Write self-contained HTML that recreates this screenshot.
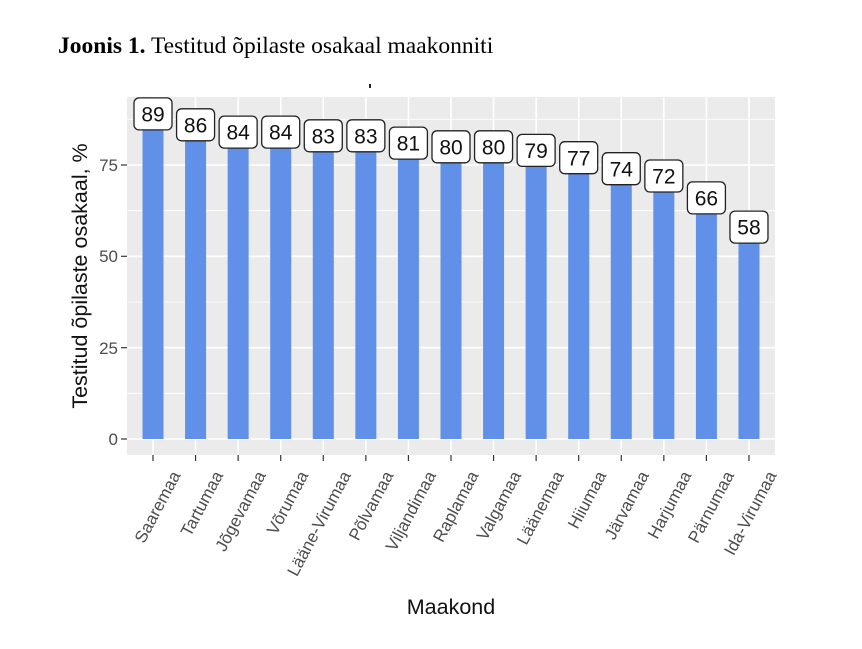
<!DOCTYPE html>
<html><head><meta charset="utf-8"><style>
body{margin:0;background:#fff;}
svg{display:block;}
.b{fill:#6090e8}
.l{fill:#fff;stroke:#222;stroke-width:1.3}
.v{font-size:21px;fill:#111;text-anchor:middle}
.x{font-size:17px;fill:#4d4d4d;text-anchor:end}
</style></head><body>
<svg width="862" height="649" xmlns="http://www.w3.org/2000/svg" font-family="Liberation Sans, Arial, sans-serif">
<rect width="862" height="649" fill="#fff"/>
<text x="58" y="53" font-family="Liberation Serif, serif" font-size="23.5" fill="#000"><tspan font-weight="bold">Joonis 1.</tspan> Testitud õpilaste osakaal maakonniti</text>
<rect x="369" y="84" width="2" height="4" fill="#222"/>
<rect x="127" y="97" width="648" height="358" fill="#ebebeb"/>
<g stroke="#fff" stroke-width="0.8">
<line x1="127" x2="775" y1="393.3" y2="393.3"/><line x1="127" x2="775" y1="302" y2="302"/><line x1="127" x2="775" y1="210.7" y2="210.7"/><line x1="127" x2="775" y1="119.3" y2="119.3"/>
</g>
<g stroke="#fff" stroke-width="1.6">
<line x1="127" x2="775" y1="439" y2="439"/><line x1="127" x2="775" y1="347.7" y2="347.7"/><line x1="127" x2="775" y1="256.3" y2="256.3"/><line x1="127" x2="775" y1="165" y2="165"/>
<line x1="153" x2="153" y1="97" y2="455"/><line x1="195.57" x2="195.57" y1="97" y2="455"/><line x1="238.14" x2="238.14" y1="97" y2="455"/><line x1="280.71" x2="280.71" y1="97" y2="455"/><line x1="323.28" x2="323.28" y1="97" y2="455"/><line x1="365.85" x2="365.85" y1="97" y2="455"/><line x1="408.42" x2="408.42" y1="97" y2="455"/><line x1="450.99" x2="450.99" y1="97" y2="455"/><line x1="493.56" x2="493.56" y1="97" y2="455"/><line x1="536.13" x2="536.13" y1="97" y2="455"/><line x1="578.7" x2="578.7" y1="97" y2="455"/><line x1="621.27" x2="621.27" y1="97" y2="455"/><line x1="663.84" x2="663.84" y1="97" y2="455"/><line x1="706.41" x2="706.41" y1="97" y2="455"/><line x1="748.98" x2="748.98" y1="97" y2="455"/>
</g>
<g fill="#4d4d4d" font-size="17" text-anchor="end">
<text x="118" y="445">0</text><text x="118" y="354">25</text><text x="118" y="262">50</text><text x="118" y="171">75</text>
</g>
<g stroke="#333" stroke-width="1.2">
<line x1="121" x2="127" y1="439" y2="439"/><line x1="121" x2="127" y1="347.7" y2="347.7"/><line x1="121" x2="127" y1="256.3" y2="256.3"/><line x1="121" x2="127" y1="165" y2="165"/>
</g>
<text transform="translate(87,276) rotate(-90)" text-anchor="middle" font-size="21.5" fill="#111">Testitud õpilaste osakaal, %</text>
<text x="451" y="614" text-anchor="middle" font-size="21.5" fill="#111">Maakond</text>

<defs>
<g id="tk"><line x1="0" x2="0" y1="455" y2="461" stroke="#333" stroke-width="1.2"/></g>
</defs>

<g transform="translate(153,0)"><rect class="b" x="-10.5" y="113.9" width="21" height="325.1"/><rect class="l" x="-19" y="97.9" width="38" height="32" rx="5"/><text class="v" x="0" y="121.5">89</text><use href="#tk"/><text class="x" transform="translate(28,475) rotate(-62)">Saaremaa</text></g>
<g transform="translate(195.57,0)"><rect class="b" x="-10.5" y="124.8" width="21" height="314.2"/><rect class="l" x="-19" y="108.8" width="38" height="32" rx="5"/><text class="v" x="0" y="132.4">86</text><use href="#tk"/><text class="x" transform="translate(28,475) rotate(-62)">Tartumaa</text></g>
<g transform="translate(238.14,0)"><rect class="b" x="-10.5" y="132.1" width="21" height="306.9"/><rect class="l" x="-19" y="116.1" width="38" height="32" rx="5"/><text class="v" x="0" y="139.7">84</text><use href="#tk"/><text class="x" transform="translate(28,475) rotate(-62)">Jõgevamaa</text></g>
<g transform="translate(280.71,0)"><rect class="b" x="-10.5" y="132.1" width="21" height="306.9"/><rect class="l" x="-19" y="116.1" width="38" height="32" rx="5"/><text class="v" x="0" y="139.7">84</text><use href="#tk"/><text class="x" transform="translate(28,475) rotate(-62)">Võrumaa</text></g>
<g transform="translate(323.28,0)"><rect class="b" x="-10.5" y="135.8" width="21" height="303.2"/><rect class="l" x="-19" y="119.8" width="38" height="32" rx="5"/><text class="v" x="0" y="143.4">83</text><use href="#tk"/><text class="x" transform="translate(28,475) rotate(-62)">Lääne-Virumaa</text></g>
<g transform="translate(365.85,0)"><rect class="b" x="-10.5" y="135.8" width="21" height="303.2"/><rect class="l" x="-19" y="119.8" width="38" height="32" rx="5"/><text class="v" x="0" y="143.4">83</text><use href="#tk"/><text class="x" transform="translate(28,475) rotate(-62)">Põlvamaa</text></g>
<g transform="translate(408.42,0)"><rect class="b" x="-10.5" y="143.1" width="21" height="295.9"/><rect class="l" x="-19" y="127.1" width="38" height="32" rx="5"/><text class="v" x="0" y="150.7">81</text><use href="#tk"/><text class="x" transform="translate(28,475) rotate(-62)">Viljandimaa</text></g>
<g transform="translate(450.99,0)"><rect class="b" x="-10.5" y="146.8" width="21" height="292.2"/><rect class="l" x="-19" y="130.8" width="38" height="32" rx="5"/><text class="v" x="0" y="154.4">80</text><use href="#tk"/><text class="x" transform="translate(28,475) rotate(-62)">Raplamaa</text></g>
<g transform="translate(493.56,0)"><rect class="b" x="-10.5" y="146.8" width="21" height="292.2"/><rect class="l" x="-19" y="130.8" width="38" height="32" rx="5"/><text class="v" x="0" y="154.4">80</text><use href="#tk"/><text class="x" transform="translate(28,475) rotate(-62)">Valgamaa</text></g>
<g transform="translate(536.13,0)"><rect class="b" x="-10.5" y="150.4" width="21" height="288.6"/><rect class="l" x="-19" y="134.4" width="38" height="32" rx="5"/><text class="v" x="0" y="158">79</text><use href="#tk"/><text class="x" transform="translate(28,475) rotate(-62)">Läänemaa</text></g>
<g transform="translate(578.7,0)"><rect class="b" x="-10.5" y="157.7" width="21" height="281.3"/><rect class="l" x="-19" y="141.7" width="38" height="32" rx="5"/><text class="v" x="0" y="165.3">77</text><use href="#tk"/><text class="x" transform="translate(28,475) rotate(-62)">Hiiumaa</text></g>
<g transform="translate(621.27,0)"><rect class="b" x="-10.5" y="168.7" width="21" height="270.3"/><rect class="l" x="-19" y="152.7" width="38" height="32" rx="5"/><text class="v" x="0" y="176.3">74</text><use href="#tk"/><text class="x" transform="translate(28,475) rotate(-62)">Järvamaa</text></g>
<g transform="translate(663.84,0)"><rect class="b" x="-10.5" y="176" width="21" height="263"/><rect class="l" x="-19" y="160" width="38" height="32" rx="5"/><text class="v" x="0" y="183.6">72</text><use href="#tk"/><text class="x" transform="translate(28,475) rotate(-62)">Harjumaa</text></g>
<g transform="translate(706.41,0)"><rect class="b" x="-10.5" y="197.9" width="21" height="241.1"/><rect class="l" x="-19" y="181.9" width="38" height="32" rx="5"/><text class="v" x="0" y="205.5">66</text><use href="#tk"/><text class="x" transform="translate(28,475) rotate(-62)">Pärnumaa</text></g>
<g transform="translate(748.98,0)"><rect class="b" x="-10.5" y="227.1" width="21" height="211.9"/><rect class="l" x="-19" y="211.1" width="38" height="32" rx="5"/><text class="v" x="0" y="234.7">58</text><use href="#tk"/><text class="x" transform="translate(28,475) rotate(-62)">Ida-Virumaa</text></g>
</svg>
</body></html>
